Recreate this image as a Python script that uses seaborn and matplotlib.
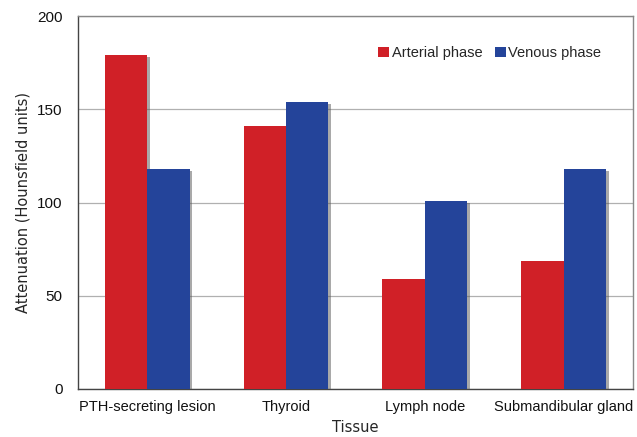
import matplotlib
matplotlib.use("Agg")
import matplotlib.pyplot as plt
import matplotlib.patheffects as pe
import pandas as pd
import seaborn as sns

tissues = ["PTH-secreting lesion", "Thyroid", "Lymph node", "Submandibular gland"]
arterial = [179, 141, 59, 68.5]
venous = [118, 154, 101, 118]
phases = ["Arterial phase", "Venous phase"]
phase_colors = ["#D02027", "#24449A"]

df = pd.DataFrame({
    "Tissue": tissues * 2,
    "value": arterial + venous,
    "phase": [phases[0]] * len(tissues) + [phases[1]] * len(tissues),
})

sns.set_style("white")
plt.rcParams["font.family"] = ["Liberation Sans", "DejaVu Sans"]

fig = plt.figure(figsize=(6.37, 4.37), dpi=100)
ax = fig.add_axes([0.1225, 0.110, 0.871, 0.853])

sns.barplot(data=df, x="Tissue", y="value", hue="phase", palette=phase_colors,
            width=0.61, saturation=1, linewidth=0, ax=ax, zorder=3)

ax.legend(loc="upper right", bbox_to_anchor=(0.967, 0.955), frameon=False, fontsize=10.5,
          handlelength=0.7, handleheight=0.7, handletextpad=0.2, ncol=2, columnspacing=0.9)

# leichter Schatten wie im Original
for bar in ax.patches:
    bar.set_path_effects([pe.SimplePatchShadow(offset=(2, -1.5), shadow_rgbFace="#555555", alpha=0.5),
                          pe.Normal()])

ax.set_ylim(0, 200)
ax.set_xlim(-0.5, 3.5)
ax.set_yticks([0, 50, 100, 150, 200])
ax.yaxis.grid(True, color="#b0b0b0", linewidth=0.9, zorder=0)
ax.set_axisbelow(True)
ax.tick_params(axis="both", length=0, labelsize=11, colors="#111111")
ax.tick_params(axis="x", pad=8, labelsize=10.5)
ax.tick_params(axis="y", pad=11)

for side in ["top", "right"]:
    ax.spines[side].set_color("#888888")
    ax.spines[side].set_linewidth(1.0)
for side in ["left", "bottom"]:
    ax.spines[side].set_color("#444444")
    ax.spines[side].set_linewidth(1.0)

ax.set_xlabel("Tissue", family="DejaVu Sans", fontsize=10.5, labelpad=4)
ax.set_ylabel("Attenuation (Hounsfield units)", family="DejaVu Sans", fontsize=10.5, labelpad=5)

fig.savefig("out.png", dpi=100)
